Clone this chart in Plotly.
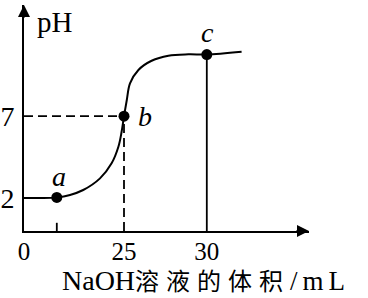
import plotly.graph_objects as go

# Schematic positions along the (not-to-scale) volume axis and pH values of the curve
curve_x = [0, 4, 8.2, 11.5, 14.8, 19, 21.9, 23.6, 24.4, 25, 25.7, 26.5, 28.6, 31.9, 36.1, 41.1, 45.7, 54.4]
curve_ph = [2.01, 2.01, 2.05, 2.2, 2.5, 3.21, 4.13, 5.14, 6.05, 7.0, 7.99, 9.0, 9.82, 10.38, 10.69, 10.77, 10.76, 10.93]

# Labelled points a, b, c
pt_names = ["a", "b", "c"]
pt_x = [8.2, 25, 45.7]
pt_ph = [2.05, 7.0, 10.76]

# Axis ticks (schematic positions -> labels)
x_tickpos = [0, 25, 45.7]
x_ticktext = ["0", "25", "30"]
y_tickpos = [2, 7]
y_ticktext = ["2", "7"]

X_MAX = 71.25
Y_MAX = 13.78

SERIF = "Liberation Serif, Times New Roman, serif"
TITLE_FONT = "Liberation Serif, Noto Sans CJK SC, serif"

fig = go.Figure()

# dashed guides to b
fig.add_trace(go.Scatter(x=[0, pt_x[1]], y=[pt_ph[1], pt_ph[1]], mode="lines",
                         line=dict(color="black", width=1.8, dash="9px,5px"), hoverinfo="skip"))
fig.add_trace(go.Scatter(x=[pt_x[1], pt_x[1]], y=[0, pt_ph[1]], mode="lines",
                         line=dict(color="black", width=1.8, dash="9px,5px"), hoverinfo="skip"))
# solid drop line at c
fig.add_trace(go.Scatter(x=[pt_x[2], pt_x[2]], y=[0, pt_ph[2]], mode="lines",
                         line=dict(color="black", width=1.8), hoverinfo="skip"))
# small tick at a
fig.add_trace(go.Scatter(x=[pt_x[0], pt_x[0]], y=[0, 0.5], mode="lines",
                         line=dict(color="black", width=1.8), hoverinfo="skip"))
# titration curve
fig.add_trace(go.Scatter(x=curve_x, y=curve_ph, mode="lines",
                         line=dict(color="black", width=2, shape="spline", smoothing=1.0),
                         hoverinfo="skip"))
# points
fig.add_trace(go.Scatter(x=pt_x, y=pt_ph, mode="markers",
                         marker=dict(color="black", size=11), hoverinfo="skip"))

# point labels
label_offsets = [(2, 21), (21, 0), (1, 22)]
for name, x, y, (dx, dy) in zip(pt_names, pt_x, pt_ph, label_offsets):
    fig.add_annotation(x=x, y=y, xshift=dx, yshift=dy, text=f"<i>{name}</i>", showarrow=False,
                       font=dict(family=SERIF, size=28, color="black"))

# axis arrows
fig.add_annotation(x=X_MAX, y=0, ax=-14, ay=0, xref="x", yref="y", showarrow=True,
                   arrowhead=2, arrowsize=1.2, arrowwidth=2, arrowcolor="black", text="")
fig.add_annotation(x=0, y=Y_MAX, ax=0, ay=14, xref="x", yref="y", showarrow=True,
                   arrowhead=2, arrowsize=1.2, arrowwidth=2, arrowcolor="black", text="")

# pH label
fig.add_annotation(x=0, y=Y_MAX, xref="x", yref="y", xshift=31, yshift=-17, text="pH",
                   showarrow=False, font=dict(family=SERIF, size=29, color="black"))

# x axis title
title_text = ('<span style="font-size:28px">NaOH</span>'
              '<span style="letter-spacing:7px">溶液的体积</span>'
              '<span style="font-size:27px;letter-spacing:5px">/mL</span>')
fig.add_annotation(xref="paper", yref="paper", x=0.64, y=-0.218, xanchor="center", yanchor="middle",
                   text=title_text, showarrow=False,
                   font=dict(family=TITLE_FONT, size=24, color="black"))

fig.update_xaxes(range=[0, X_MAX], showline=True, linecolor="black", linewidth=2,
                 showgrid=False, zeroline=False, tickvals=x_tickpos, ticktext=x_ticktext,
                 ticks="", automargin=False, ticklabelstandoff=-3,
                 tickfont=dict(family=SERIF, size=25, color="black"))
fig.update_yaxes(range=[0, Y_MAX], showline=True, linecolor="black", linewidth=2,
                 showgrid=False, zeroline=False, tickvals=y_tickpos, ticktext=y_ticktext,
                 ticks="outside", ticklen=2, tickcolor="rgba(0,0,0,0)", automargin=False,
                 tickfont=dict(family=SERIF, size=28, color="black"))

fig.update_layout(width=368, height=298, margin=dict(l=24, r=59, t=5, b=67),
                  paper_bgcolor="white", plot_bgcolor="white", showlegend=False)

fig.write_html("out.html")
